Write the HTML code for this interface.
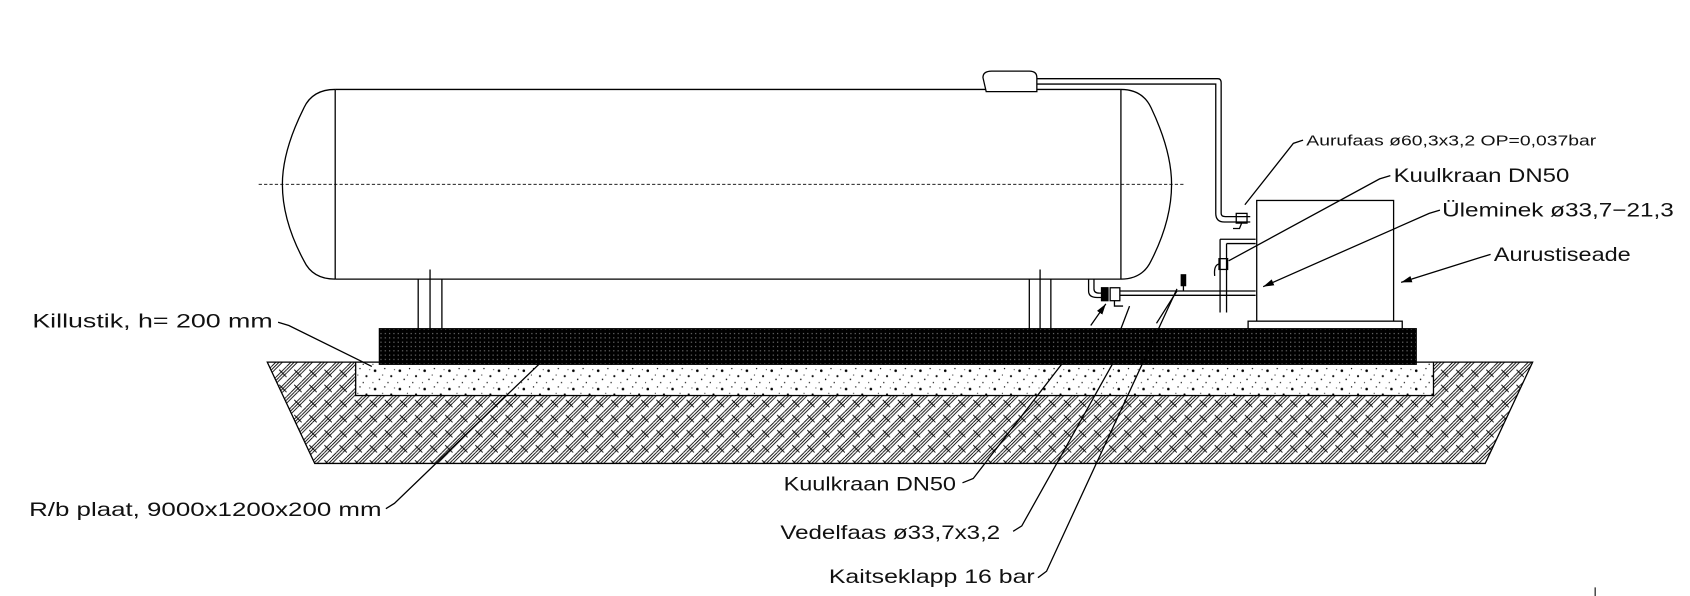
<!DOCTYPE html>
<html><head><meta charset="utf-8"><style>
html,body{margin:0;padding:0;background:#fff;}
svg{display:block;}
text{font-family:"Liberation Sans",sans-serif;fill:#111;}
</style></head><body>
<svg width="1690" height="596" viewBox="0 0 1568 553" preserveAspectRatio="none" xmlns="http://www.w3.org/2000/svg">
<defs>
<pattern id="weave" width="14" height="14" patternUnits="userSpaceOnUse">
<rect width="14" height="14" fill="#fff"/>
<path d="M0 4 L4 0 M0 7 L7 0 M0 10 L10 0 M7 14 L14 7 M10 14 L14 10 M4 14 L14 4" stroke="#000" stroke-width="0.8"/>
<path d="M7 7 L14 14" stroke="#000" stroke-width="0.8"/>
</pattern>
<pattern id="dark" width="4" height="4" patternUnits="userSpaceOnUse">
<rect width="4" height="4" fill="#000"/>
<rect x="1" y="1" width="1" height="1" fill="#888"/>
</pattern>
<pattern id="speck" width="23" height="17" patternUnits="userSpaceOnUse">
<rect width="23" height="17" fill="#fff"/>
<circle cx="3" cy="4" r="1.2" fill="#000"/><circle cx="12" cy="2" r="0.6" fill="#000"/>
<circle cx="18" cy="9" r="1" fill="#000"/><circle cx="7" cy="12" r="0.7" fill="#000"/>
<circle cx="15" cy="15" r="0.6" fill="#000"/><circle cx="21" cy="3" r="0.5" fill="#000"/>
<circle cx="1" cy="15" r="0.5" fill="#000"/><circle cx="10" cy="8" r="0.5" fill="#000"/>
</pattern>
<marker id="ar" markerWidth="10" markerHeight="6" refX="10" refY="3" orient="auto" markerUnits="userSpaceOnUse"><path d="M0 0 L10 3 L0 6 Z" fill="#000"/></marker>
</defs>
<g stroke="#000" stroke-width="1.2" fill="none">
<path d="M248 336 L1422 336 L1378 430 L292 430 Z" fill="url(#weave)"/>
<rect x="330" y="336" width="1000" height="31" fill="url(#speck)"/>
<rect x="352" y="305" width="962" height="33" fill="url(#dark)"/>
<path d="M311 83 L1040 83 M311 259 L1040 259 M311 83 L311 259 M1040 83 L1040 259"/>
<path d="M311 83 Q290 83 282 100 Q262 140 262 171 Q262 205 282 242 Q290 259 311 259"/>
<path d="M1040 83 Q1060 83 1068 100 Q1087 140 1087 171 Q1087 205 1068 242 Q1060 259 1040 259"/>
<line x1="240" y1="171" x2="1100" y2="171" stroke-dasharray="3 2" stroke-width="0.8"/>
<path d="M915 85 L912 72 Q912 66 920 66 L955 66 Q962 66 962 72 L962 85 Z" fill="#fff"/>
<path d="M962 73 L1130 73 Q1133 73 1133 77 L1133 198 Q1133 201 1137 201 L1160 201"/>
<path d="M962 78 L1128 78 L1128 198 Q1128 206 1136 206 L1160 206"/>
<rect x="1147" y="198" width="10" height="9"/>
<path d="M1152 207 L1150 212 L1144 212"/>
<path d="M1132 222 L1132 290 M1138 226 L1138 290 M1132 222 L1165 222 M1138 226 L1165 226"/>
<rect x="1131" y="240" width="8" height="10"/>
<path d="M1131 245 Q1126 246 1127 256"/>
<path d="M388 259 L388 305 M399 250 L399 305 M410 259 L410 305 M955 259 L955 305 M965 250 L965 305 M975 259 L975 305"/>
<rect x="1166" y="186" width="127" height="112" fill="#fff"/>
<rect x="1158" y="298" width="143" height="7" fill="#fff"/>
<path d="M1010 259 L1010 270 Q1010 276 1018 276 L1025 276 M1015 259 L1015 268 Q1015 272 1020 272 L1025 272"/>
<rect x="1022" y="267" width="6" height="12" fill="#000"/>
<rect x="1030" y="267" width="9" height="12" fill="#fff"/>
<path d="M1039 270 L1165 270 M1039 274 L1165 274"/>
<path d="M1034 279 L1034 284 L1042 284"/>
<rect x="1096" y="255" width="4" height="10" fill="#000"/>
<path d="M1098 265 L1098 270"/>
<path d="M258 299 L268 302 L345 340"/>
<path d="M358 472 L366 467 L500 338"/>
<path d="M893 448 L903 444 L985 338"/>
<path d="M940 493 L948 488 L1032 338"/>
<path d="M963 536 L971 530 L1092 268"/>
<path d="M1012 302 L1026 282" marker-end="url(#ar)"/>
<path d="M1040 305 L1048 284"/>
<path d="M1073 300 L1092 270"/>
<path d="M1209 130 L1200 133 L1155 190" />
<path d="M1290 163 L1280 166 L1140 242"/>
<path d="M1336 195 L1326 198 L1172 266" marker-end="url(#ar)"/>
<path d="M1383 236 L1373 239 L1300 262" marker-end="url(#ar)"/>
</g>
<g font-size="18">
<text x="30" y="304" textLength="223" lengthAdjust="spacingAndGlyphs">Killustik, h= 200 mm</text>
<text x="27" y="479" textLength="327" lengthAdjust="spacingAndGlyphs">R/b plaat, 9000x1200x200 mm</text>
<text x="727" y="455" textLength="160" lengthAdjust="spacingAndGlyphs">Kuulkraan DN50</text>
<text x="724" y="500" textLength="204" lengthAdjust="spacingAndGlyphs">Vedelfaas ø33,7x3,2</text>
<text x="769" y="541" textLength="191" lengthAdjust="spacingAndGlyphs">Kaitseklapp 16 bar</text>
<text x="1212" y="135" font-size="14" textLength="269" lengthAdjust="spacingAndGlyphs">Aurufaas ø60,3x3,2 OP=0,037bar</text>
<text x="1293" y="169" textLength="163" lengthAdjust="spacingAndGlyphs">Kuulkraan DN50</text>
<text x="1338" y="201" textLength="215" lengthAdjust="spacingAndGlyphs">Üleminek ø33,7−21,3</text>
<text x="1386" y="242" textLength="127" lengthAdjust="spacingAndGlyphs">Aurustiseade</text>
</g>
<line x1="1480" y1="545" x2="1480" y2="553" stroke="#000" stroke-width="1"/>
</svg>
</body></html>
